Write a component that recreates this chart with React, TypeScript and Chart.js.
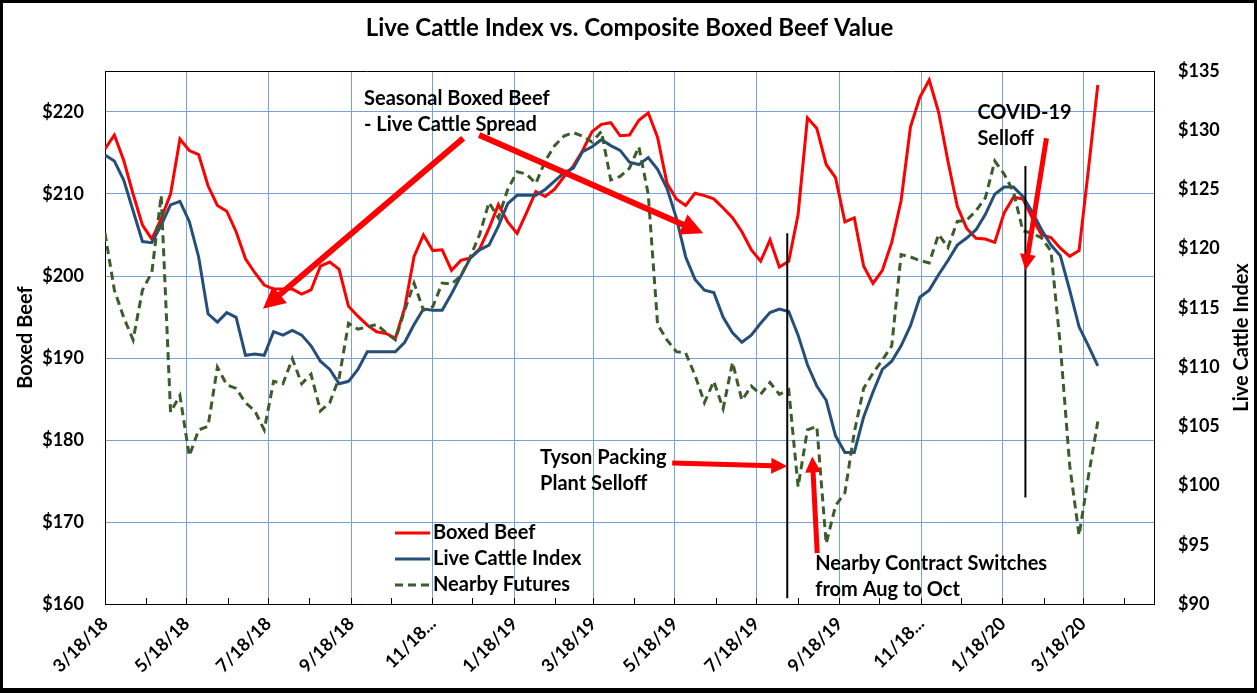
import React, { useEffect, useRef } from "react";
import { Chart, registerables } from "chart.js";

Chart.register(...registerables);

// ---------- data ----------
const startDate = "2018-03-18"; // first weekly observation
const axisEndDate = "2020-05-10";

const boxedBeef = [
  215.5, 217.2, 214.1, 210.0, 206.2, 204.5, 207.0, 210.0, 216.7, 215.3,
  214.8, 211.0, 208.6, 207.9, 205.4, 202.1, 200.4, 198.9, 198.4, 198.4,
  198.4, 197.8, 198.3, 201.2, 201.7, 200.8, 196.3, 195.1, 194.0, 193.2,
  193.0, 192.4, 196.1, 202.4, 205.0, 203.1, 203.2, 200.7, 201.9, 202.2,
  203.3, 205.8, 208.7, 206.6, 205.2, 207.7, 210.3, 209.7, 210.6, 212.1,
  213.4, 215.3, 217.6, 218.5, 218.7, 217.1, 217.2, 219.0, 219.9, 216.9,
  211.3, 209.4, 208.6, 210.1, 209.8, 209.4, 208.3, 207.1, 205.4, 203.2,
  201.8, 204.4, 201.1, 201.8, 207.5, 219.3, 218.0, 213.6, 212.0, 206.6,
  207.1, 201.2, 199.1, 200.7, 204.1, 209.2, 218.2, 221.8, 223.9, 220.0,
  214.0, 208.5, 205.8, 204.6, 204.5, 204.1, 207.7, 209.6, 209.4, 207.1,
  205.0, 204.7, 203.4, 202.4, 203.1, 213.0, 223.3,
];

const liveCattleIndex = [
  127.9, 127.4, 125.8, 123.2, 120.6, 120.5, 122.0, 123.7, 124.0, 122.3,
  119.3, 114.5, 113.8, 114.6, 114.2, 111.0, 111.1, 111.0, 113.0, 112.7,
  113.1, 112.7, 111.8, 110.5, 109.8, 108.6, 108.8, 109.8, 111.3, 111.3,
  111.3, 111.3, 112.1, 113.6, 114.9, 114.8, 114.8, 116.2, 117.7, 119.2,
  119.9, 120.3, 121.9, 123.8, 124.5, 124.5, 124.5, 125.0, 125.7, 126.4,
  126.8, 128.2, 128.6, 129.2, 128.7, 128.3, 127.3, 127.1, 127.7, 126.7,
  125.1, 122.6, 119.3, 117.4, 116.5, 116.3, 114.2, 112.9, 112.1, 112.7,
  113.7, 114.6, 114.9, 114.7, 112.7, 110.2, 108.4, 107.2, 104.2, 102.8,
  102.8, 105.8, 107.9, 109.8, 110.5, 111.8, 113.5, 115.9, 116.5, 117.8,
  119.0, 120.3, 120.9, 121.6, 122.9, 124.6, 125.2, 125.2, 124.4, 123.1,
  121.6, 120.3, 119.4, 116.5, 113.4, 111.8, 110.1,
];

const nearbyFutures = [
  121.3, 116.5, 114.2, 112.3, 116.5, 118.0, 124.5, 106.2, 107.6, 102.5,
  104.7, 105.0, 110.0, 108.5, 108.2, 107.0, 106.3, 104.7, 108.8, 108.6,
  110.7, 108.6, 109.4, 106.3, 107.0, 109.1, 113.7, 113.2, 113.4, 113.6,
  112.9, 112.3, 114.8, 117.1, 114.8, 115.1, 117.1, 117.0, 117.7, 119.3,
  121.2, 123.9, 122.6, 125.0, 126.5, 126.3, 125.5, 127.4, 128.7, 129.5,
  129.8, 129.5, 129.0, 129.9, 125.8, 126.1, 126.8, 128.6, 124.6, 113.6,
  112.3, 111.3, 111.2, 109.3, 107.0, 108.8, 106.5, 110.4, 107.2, 108.4,
  107.7, 108.7, 107.7, 108.1, 99.9, 104.7, 105.0, 95.1, 98.3, 99.4,
  104.5, 108.2, 109.5, 110.6, 111.8, 119.5, 119.3, 119.0, 118.8, 121.2,
  120.1, 122.3, 122.4, 123.2, 124.3, 127.4, 126.3, 124.8, 121.5, 121.3,
  120.9, 119.8, 111.8, 101.7, 95.8, 100.8, 105.4,
];

const monthTickDates = [
  "2018-03-18", "2018-04-18", "2018-05-18", "2018-06-18", "2018-07-18",
  "2018-08-18", "2018-09-18", "2018-10-18", "2018-11-18", "2018-12-18",
  "2019-01-18", "2019-02-18", "2019-03-18", "2019-04-18", "2019-05-18",
  "2019-06-18", "2019-07-18", "2019-08-18", "2019-09-18", "2019-10-18",
  "2019-11-18", "2019-12-18", "2020-01-18", "2020-02-18", "2020-03-18",
  "2020-04-18",
];
const majorTickLabels = [
  "3/18/18", "5/18/18", "7/18/18", "9/18/18", "11/18...", "1/18/19", "3/18/19",
  "5/18/19", "7/18/19", "9/18/19", "11/18...", "1/18/20", "3/18/20",
];

const seriesNames = ["Boxed Beef", "Live Cattle Index", "Nearby Futures"];
const chartTitle = "Live Cattle Index vs. Composite Boxed Beef Value";
const leftAxisTitle = "Boxed Beef";
const rightAxisTitle = "Live Cattle Index";

// annotations anchored in data space: [day offset, Boxed Beef axis value]
const noteTexts = [
  { lines: ["Seasonal Boxed Beef", "- Live Cattle Spread"], at: [193.6, 221.6] },
  { lines: ["Tyson Packing", "Plant Selloff"], at: [325.2, 177.8] },
  { lines: ["COVID-19", "Selloff"], at: [652.0, 219.9] },
  { lines: ["Nearby Contract Switches", "from Aug to Oct"], at: [530.8, 164.9] },
];
const noteArrows = [
  { from: [267.7, 216.8], to: [118.1, 196.0], big: true },
  { from: [279.6, 217.2], to: [447.1, 205.2], big: true },
  { from: [423.9, 177.2], to: [509.9, 176.8], big: false },
  { from: [532.3, 166.2], to: [528.6, 178.0], big: false },
  { from: [703.6, 216.8], to: [687.9, 200.7], big: false },
];
const noteLines = [
  { day: 509.9, from: 205.2, to: 160.7 },
  { day: 687.9, from: 213.4, to: 173.0 },
];

// ---------- helpers ----------
const DAY_MS = 86400000;
const startMs = Date.parse(startDate + "T00:00:00Z");
const dayOf = (iso: string) => (Date.parse(iso + "T00:00:00Z") - startMs) / DAY_MS;
const weekDays = boxedBeef.map((_, i) => i * 7);

const RED = "#ff0000";
const BLUE = "#254e78";
const GREEN = "#3d5c2c";
const GRID = "#78a2d6";
const FONT = "Lato, 'Open Sans', sans-serif";

const overlayPlugin = {
  id: "overlay",
  afterDraw(chart: any) {
    const { ctx, chartArea, scales } = chart;
    const xs = scales.x;
    const ys = scales.y;
    const px = (d: number) => xs.getPixelForValue(d);
    const py = (v: number) => ys.getPixelForValue(v);
    ctx.save();

    // plot top border
    ctx.strokeStyle = "#000";
    ctx.lineWidth = 1;
    ctx.beginPath();
    ctx.moveTo(chartArea.left, Math.round(chartArea.top) + 0.5);
    ctx.lineTo(chartArea.right, Math.round(chartArea.top) + 0.5);
    ctx.stroke();

    // title
    ctx.fillStyle = "#000";
    ctx.textAlign = "center";
    ctx.textBaseline = "middle";
    ctx.font = `bold 24px ${FONT}`;
    ctx.fillText(chartTitle, chart.width / 2 + 1, 25);

    // axis titles
    const midY = (chartArea.top + chartArea.bottom) / 2;
    ctx.font = `bold 20px ${FONT}`;
    ctx.save();
    ctx.translate(23, midY);
    ctx.rotate(-Math.PI / 2);
    ctx.fillText(leftAxisTitle, 0, 0);
    ctx.restore();
    ctx.save();
    ctx.translate(chart.width - 12, midY);
    ctx.rotate(-Math.PI / 2);
    ctx.fillText(rightAxisTitle, 0, 0);
    ctx.restore();

    // marker lines
    ctx.strokeStyle = "#000";
    ctx.lineWidth = 2;
    noteLines.forEach((l) => {
      const x = px(l.day);
      ctx.beginPath();
      ctx.moveTo(x, py(l.from));
      ctx.lineTo(x, py(l.to));
      ctx.stroke();
    });

    // arrows
    ctx.fillStyle = RED;
    ctx.strokeStyle = RED;
    noteArrows.forEach((a) => {
      const x1 = px(a.from[0]), y1 = py(a.from[1]);
      const x2 = px(a.to[0]), y2 = py(a.to[1]);
      const len = Math.hypot(x2 - x1, y2 - y1);
      const ux = (x2 - x1) / len, uy = (y2 - y1) / len;
      const headLen = a.big ? 22 : 16;
      const headHalf = a.big ? 11 : 8;
      const lw = a.big ? 6 : 5;
      const bx = x2 - ux * headLen, by = y2 - uy * headLen;
      ctx.lineWidth = lw;
      ctx.lineCap = "butt";
      ctx.beginPath();
      ctx.moveTo(x1, y1);
      ctx.lineTo(bx + ux * 1, by + uy * 1);
      ctx.stroke();
      ctx.beginPath();
      ctx.moveTo(x2, y2);
      ctx.lineTo(bx - uy * headHalf, by + ux * headHalf);
      ctx.lineTo(bx + uy * headHalf, by - ux * headHalf);
      ctx.closePath();
      ctx.fill();
    });

    // note texts
    ctx.fillStyle = "#000";
    ctx.textAlign = "left";
    ctx.textBaseline = "middle";
    ctx.font = `bold 20px ${FONT}`;
    noteTexts.forEach((n) => {
      const x = px(n.at[0]);
      const y = py(n.at[1]);
      n.lines.forEach((t, i) => ctx.fillText(t, x, y + i * 26));
    });

    // legend
    const colors = [RED, BLUE, GREEN];
    const lx = chartArea.left + 290;
    const rows = [chartArea.bottom - 71, chartArea.bottom - 45, chartArea.bottom - 19];
    seriesNames.forEach((name, i) => {
      ctx.strokeStyle = colors[i];
      ctx.lineWidth = 3;
      ctx.setLineDash(i === 2 ? [8, 5] : []);
      ctx.beginPath();
      ctx.moveTo(lx, rows[i]);
      ctx.lineTo(lx + 35, rows[i]);
      ctx.stroke();
      ctx.setLineDash([]);
      ctx.fillStyle = "#000";
      ctx.fillText(name, lx + 38, rows[i]);
    });

    ctx.restore();
  },
};

export default function App() {
  const ref = useRef<HTMLCanvasElement>(null);

  useEffect(() => {
    const canvas = ref.current;
    if (!canvas) return;
    const tickFont = { family: FONT, size: 18, weight: "bold" as const };
    const chart = new Chart(canvas, {
      type: "line",
      data: {
        datasets: [
          {
            label: seriesNames[0],
            data: boxedBeef.map((v, i) => ({ x: weekDays[i], y: v })),
            borderColor: RED,
            borderWidth: 3,
            pointRadius: 0,
            yAxisID: "y",
            order: 3,
          },
          {
            label: seriesNames[1],
            data: liveCattleIndex.map((v, i) => ({ x: weekDays[i], y: v })),
            borderColor: BLUE,
            borderWidth: 3,
            pointRadius: 0,
            yAxisID: "y1",
            order: 2,
          },
          {
            label: seriesNames[2],
            data: nearbyFutures.map((v, i) => ({ x: weekDays[i], y: v })),
            borderColor: GREEN,
            borderWidth: 3,
            borderDash: [8, 5],
            pointRadius: 0,
            yAxisID: "y1",
            order: 1,
          },
        ],
      },
      options: {
        responsive: false,
        animation: false,
        devicePixelRatio: 1,
        layout: { padding: { top: 68, left: 0, right: 0, bottom: 0 } },
        plugins: {
          legend: { display: false },
          title: { display: false },
          tooltip: { enabled: false },
        },
        scales: {
          x: {
            type: "linear",
            min: 0,
            max: dayOf(axisEndDate),
            afterBuildTicks: (scale: any) => {
              scale.ticks = monthTickDates.map((d) => ({ value: dayOf(d) }));
            },
            afterFit: (scale: any) => {
              scale.height = 84;
            },
            grid: {
              color: (c: any) => (c.index % 2 === 0 ? GRID : "rgba(0,0,0,0)"),
              tickColor: "#000",
              tickLength: -6,
              drawTicks: true,
              lineWidth: 1,
            },
            border: { color: "#000", width: 1 },
            ticks: {
              autoSkip: false,
              minRotation: 45,
              maxRotation: 45,
              padding: 15,
              color: "#000",
              font: tickFont,
              callback: (_v: any, i: number) => (i % 2 === 0 ? majorTickLabels[i / 2] : ""),
            },
          },
          y: {
            position: "left",
            min: 160,
            max: 225,
            afterFit: (scale: any) => {
              scale.width = 102;
            },
            grid: { color: GRID, drawTicks: false, lineWidth: 1 },
            border: { color: "#000", width: 1 },
            ticks: {
              stepSize: 10,
              includeBounds: false,
              padding: 21,
              color: "#000",
              font: tickFont,
              callback: (v: any) => "$" + v,
            },
          },
          y1: {
            position: "right",
            min: 90,
            max: 135,
            afterFit: (scale: any) => {
              scale.width = 100;
            },
            grid: { display: false, drawTicks: false },
            border: { color: "#000", width: 1, display: true },
            ticks: {
              stepSize: 5,
              padding: 24,
              color: "#000",
              font: tickFont,
              callback: (v: any) => "$" + v,
            },
          },
        },
      },
      plugins: [overlayPlugin],
    } as any);
    return () => chart.destroy();
  }, []);

  return (
    <div
      style={{
        position: "absolute",
        left: 0,
        top: 0,
        width: 1257,
        height: 693,
        boxSizing: "border-box",
        borderStyle: "solid",
        borderColor: "#000",
        borderWidth: "3px 3px 5px 3px",
        background: "#fff",
      }}
    >
      <canvas ref={ref} width={1251} height={685} style={{ display: "block", width: 1251, height: 685 }} />
    </div>
  );
}
